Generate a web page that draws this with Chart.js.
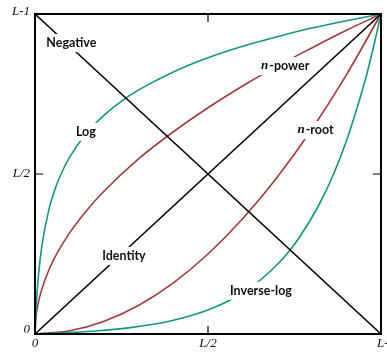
<!DOCTYPE html>
<html>
<head>
<meta charset="utf-8">
<script src="https://cdn.jsdelivr.net/npm/chart.js@4"></script>
<style>
  html, body { margin: 0; padding: 0; background: #fff; }
  #wrap { width: 387px; height: 354px; }
</style>
</head>
<body>
<div id="wrap"><canvas id="myChart"></canvas></div>
<script>
// input level r (normalized 0..1) -> output level s
const logX = [0, 0.005, 0.01, 0.02, 0.04, 0.06, 0.08, 0.1, 0.15, 0.2, 0.25, 0.3, 0.4, 0.5, 0.6, 0.7, 0.8, 0.9, 1];
const logY = [0, 0.112, 0.183, 0.276, 0.388, 0.459, 0.511, 0.553, 0.629, 0.684, 0.728, 0.763, 0.819, 0.863, 0.899, 0.929, 0.956, 0.979, 1];

const invLogX = [0, 0.112, 0.183, 0.276, 0.388, 0.459, 0.511, 0.553, 0.629, 0.684, 0.728, 0.763, 0.819, 0.863, 0.899, 0.929, 0.956, 0.979, 1];
const invLogY = [0, 0.005, 0.01, 0.02, 0.04, 0.06, 0.08, 0.1, 0.15, 0.2, 0.25, 0.3, 0.4, 0.5, 0.6, 0.7, 0.8, 0.9, 1];

const powX = [0, 0.002, 0.005, 0.01, 0.02, 0.04, 0.06, 0.1, 0.15, 0.2, 0.3, 0.4, 0.5, 0.6, 0.7, 0.8, 0.9, 1];
const powY = [0, 0.045, 0.071, 0.1, 0.141, 0.2, 0.245, 0.316, 0.387, 0.447, 0.548, 0.632, 0.707, 0.775, 0.837, 0.894, 0.949, 1];

const rootX = [0, 0.1, 0.2, 0.3, 0.4, 0.5, 0.6, 0.7, 0.8, 0.9, 1];
const rootY = [0, 0.01, 0.04, 0.09, 0.16, 0.25, 0.36, 0.49, 0.64, 0.81, 1];

const identityX = [0, 1];
const identityY = [0, 1];
const negativeX = [0, 1];
const negativeY = [1, 0];

const tickValues = [0, 0.5, 1];
const tickLabels = ['0', 'L/2', 'L-1'];

// curve labels: [text, italic prefix, x, y]
const curveLabels = [
  ['Negative', '', 0.105, 0.909],
  ['Log', '', 0.147, 0.632],
  ['-power', 'n', 0.723, 0.8375],
  ['-root', 'n', 0.811, 0.6375],
  ['Identity', '', 0.257, 0.244],
  ['Inverse-log', '', 0.653, 0.135]
];

const GREEN = '#13977f';
const RED = '#a23b3b';

const toPts = (xs, ys) => xs.map((x, i) => ({ x: x, y: ys[i] }));

const line = (xs, ys, color, curved) => ({
  data: toPts(xs, ys),
  showLine: true,
  borderColor: color,
  borderWidth: 1.6,
  pointRadius: 0,
  cubicInterpolationMode: curved ? 'monotone' : 'default',
  tension: 0,
  clip: false
});

const framePlugin = {
  id: 'frame',
  afterDatasetsDraw(chart) {
    const ctx = chart.ctx;
    const xs = chart.scales.x;
    const ys = chart.scales.y;
    const a = chart.chartArea;
    ctx.save();

    // curve labels with white boxes
    ctx.textBaseline = 'middle';
    curveLabels.forEach(([txt, pre, x, y]) => {
      const px = xs.getPixelForValue(x);
      const py = ys.getPixelForValue(y);
      ctx.font = 'bold italic 13px "Liberation Serif"';
      const wPre = pre ? ctx.measureText(pre).width + 1 : 0;
      ctx.font = 'bold 12.5px Lato';
      const wTxt = ctx.measureText(txt).width;
      const w = wPre + wTxt;
      ctx.fillStyle = '#fff';
      ctx.fillRect(px - w / 2 - 4, py - 9, w + 8, 18);
      ctx.fillStyle = '#111';
      ctx.textAlign = 'left';
      if (pre) {
        ctx.font = 'bold italic 13px "Liberation Serif"';
        ctx.fillText(pre, px - w / 2, py);
      }
      ctx.font = 'bold 12.5px Lato';
      ctx.fillText(txt, px - w / 2 + wPre, py);
    });

    // frame
    ctx.strokeStyle = '#000';
    ctx.lineWidth = 2;
    ctx.strokeRect(a.left, a.top, a.right - a.left, a.bottom - a.top);

    // inward tick marks at the middle of each side
    const mx = xs.getPixelForValue(0.5);
    const my = ys.getPixelForValue(0.5);
    ctx.lineWidth = 1.2;
    ctx.beginPath();
    ctx.moveTo(mx, a.bottom); ctx.lineTo(mx, a.bottom - 8);
    ctx.moveTo(mx, a.top); ctx.lineTo(mx, a.top + 8);
    ctx.moveTo(a.left, my); ctx.lineTo(a.left + 8, my);
    ctx.moveTo(a.right, my); ctx.lineTo(a.right - 8, my);
    ctx.stroke();

    // tick labels
    ctx.fillStyle = '#111';
    ctx.font = 'italic 13px "Liberation Serif"';
    ctx.textBaseline = 'middle';
    ctx.textAlign = 'right';
    tickValues.forEach((v, i) => {
      let py = ys.getPixelForValue(v);
      if (v === 0) py -= 4;
      if (v === 1) py -= 2;
      ctx.fillText(tickLabels[i], a.left - 5, py);
    });
    ctx.textAlign = 'center';
    tickValues.forEach((v, i) => {
      const px = xs.getPixelForValue(v) + (v === 1 ? 5 : 0);
      ctx.fillText(tickLabels[i], px, a.bottom + 10);
    });
    ctx.restore();
  }
};

const ctx = document.getElementById('myChart').getContext('2d');
new Chart(ctx, {
  type: 'scatter',
  data: {
    datasets: [
      line(negativeX, negativeY, '#000', false),
      line(identityX, identityY, '#000', false),
      line(logX, logY, GREEN, true),
      line(invLogX, invLogY, GREEN, true),
      line(powX, powY, RED, true),
      line(rootX, rootY, RED, true)
    ]
  },
  options: {
    responsive: true,
    maintainAspectRatio: false,
    animation: false,
    layout: { padding: { left: 35, right: 6, top: 14, bottom: 20 } },
    plugins: { legend: { display: false }, tooltip: { enabled: false } },
    scales: {
      x: { type: 'linear', min: 0, max: 1, display: false },
      y: { type: 'linear', min: 0, max: 1, display: false }
    }
  },
  plugins: [framePlugin]
});
</script>
</body>
</html>
